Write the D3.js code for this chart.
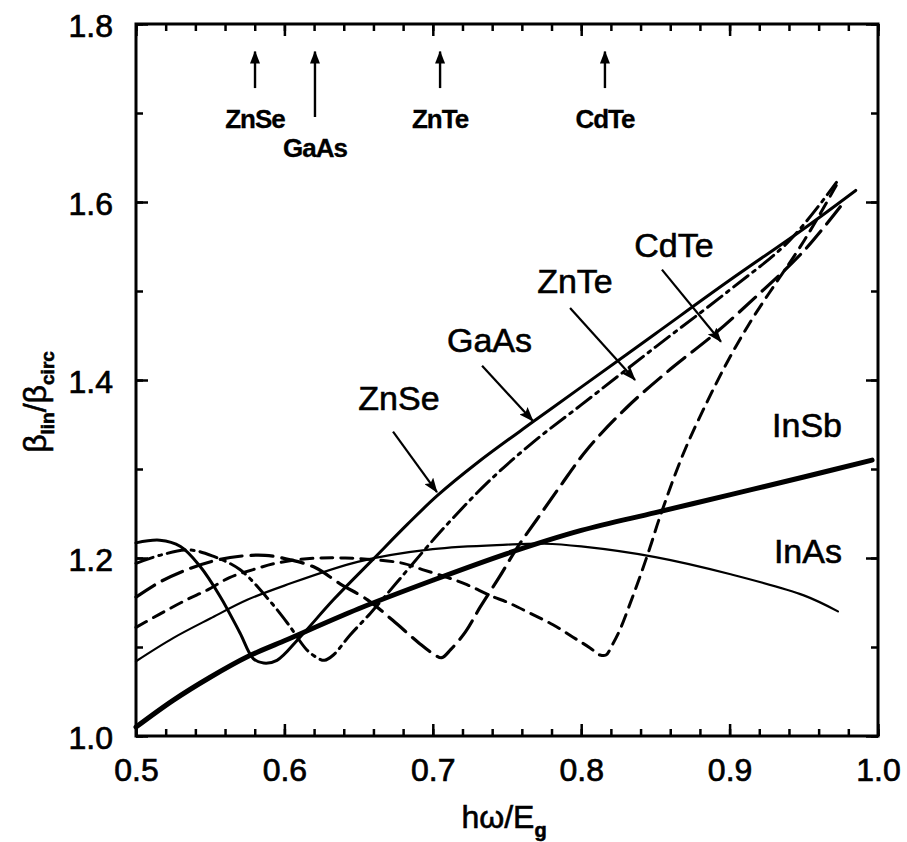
<!DOCTYPE html>
<html lang="en">
<head>
<meta charset="UTF-8">
<title>beta_lin / beta_circ vs photon energy</title>
<style>
  body { margin: 0; background: #fff; }
  text { font-family: "Liberation Sans", Arial, Helvetica, sans-serif; fill: #000; stroke: #000; stroke-width: 0.6px; }
  .curve { fill: none; stroke: #000; stroke-linejoin: round; stroke-linecap: round; }
  .tick line { stroke: #000; stroke-width: 2.5px; }
  .domain { display: none; }
</style>
</head>
<body>
<script src="https://cdn.jsdelivr.net/npm/d3@7"></script>
<script>
// curves: [hw/Eg, beta_lin/beta_circ]
const inSb = [[0.5,1.01],[0.525,1.04],[0.55,1.066],[0.575,1.089],[0.6,1.107],[0.65,1.143],
  [0.7,1.175],[0.75,1.205],[0.8,1.231],[0.85,1.251],[0.9,1.271],[0.95,1.291],[0.996,1.31]];
const inAs = [[0.5,1.084],[0.525,1.11],[0.55,1.132],[0.575,1.153],[0.6,1.169],[0.65,1.196],
  [0.7,1.210],[0.75,1.215],[0.775,1.216],[0.8,1.213],[0.85,1.201],[0.9,1.182],[0.95,1.158],[0.973,1.14]];
const znSe = [[0.5,1.217],[0.516,1.220],[0.53,1.213],[0.543,1.191],[0.557,1.156],[0.570,1.116],
  [0.579,1.087],[0.586,1.082],[0.595,1.085],[0.6105,1.111],[0.633,1.153],[0.66,1.199],[0.683,1.238],
  [0.703,1.270],[0.73,1.307],[0.7675,1.353],[0.8,1.392],[0.85,1.452],[0.9,1.512],[0.95,1.570],[0.985,1.613]];
const gaAs = [[0.5,1.194],[0.516,1.203],[0.536,1.209],[0.552,1.202],[0.570,1.187],[0.588,1.156],
  [0.602,1.127],[0.615,1.097],[0.622,1.088],[0.627,1.085],[0.633,1.091],[0.644,1.113],[0.658,1.138],
  [0.676,1.173],[0.698,1.216],[0.712,1.242],[0.737,1.285],[0.7675,1.330],[0.8,1.372],[0.85,1.437],
  [0.9,1.501],[0.94,1.556],[0.972,1.622]];
const znTe = [[0.5,1.156],[0.516,1.173],[0.536,1.188],[0.553,1.197],[0.570,1.202],[0.587,1.203],
  [0.604,1.198],[0.621,1.189],[0.6375,1.171],[0.656,1.153],[0.673,1.130],[0.691,1.104],[0.7015,1.091],
  [0.706,1.088],[0.712,1.097],[0.722,1.117],[0.732,1.145],[0.745,1.179],[0.757,1.212],[0.770,1.243],
  [0.786,1.281],[0.804,1.322],[0.83,1.368],[0.86,1.412],[0.89,1.452],[0.92,1.497],[0.95,1.545],[0.978,1.602]];
const cdTe = [[0.5,1.122],[0.516,1.137],[0.534,1.153],[0.548,1.164],[0.563,1.178],[0.579,1.187],
  [0.594,1.194],[0.6085,1.198],[0.624,1.2],[0.641,1.2],[0.661,1.198],[0.68,1.194],[0.693,1.187],
  [0.71,1.178],[0.723,1.17],[0.7385,1.158],[0.752,1.149],[0.7655,1.138],[0.781,1.125],[0.7945,1.111],
  [0.806,1.099],[0.8127,1.091],[0.8167,1.091],[0.8208,1.102],[0.826,1.119],[0.833,1.149],[0.8396,1.179],
  [0.8464,1.212],[0.853,1.246],[0.869,1.318],[0.885,1.376],[0.9,1.425],[0.915,1.468],[0.93,1.506],
  [0.945,1.543],[0.958,1.578],[0.974,1.625]];

const xTicks = [0.5, 0.6, 0.7, 0.8, 0.9, 1.0];
const yTicks = [1.0, 1.2, 1.4, 1.6, 1.8];

// labelled arrows in the plot: text position, arrow start, arrow tip
const labels = [
  {text: 'ZnSe', at: [0.6772, 1.366], from: [0.6732, 1.342], to: [0.7028, 1.274]},
  {text: 'GaAs', at: [0.7382, 1.4315], from: [0.7332, 1.416], to: [0.7675, 1.354]},
  {text: 'ZnTe', at: [0.7958, 1.4978], from: [0.7925, 1.481], to: [0.8363, 1.40]},
  {text: 'CdTe', at: [0.8625, 1.5382], from: [0.8544, 1.524], to: [0.8942, 1.443]},
  {text: 'InSb', at: [0.9522, 1.336]},
  {text: 'InAs', at: [0.9528, 1.1944]}
];
// band edge markers along the top
const edgeNames = ['ZnSe', 'GaAs', 'ZnTe', 'CdTe'];
const edgeX = [0.5802, 0.6206, 0.7049, 0.816];
const edgeTail = [1.728, 1.6955, 1.728, 1.728];
const edgeText = [1.6831, 1.6506, 1.6831, 1.6831];

const width = 907, height = 842;
const margin = {top: 24, right: 29, bottom: 106, left: 136};

const x = d3.scaleLinear().domain([0.5, 1.0]).range([margin.left, width - margin.right]);
const y = d3.scaleLinear().domain([1.0, 1.8]).range([height - margin.bottom, margin.top]);

const svg = d3.select('body').append('svg').attr('width', width).attr('height', height);

const defs = svg.append('defs');
defs.append('marker').attr('id', 'head').attr('markerUnits', 'userSpaceOnUse')
  .attr('viewBox', '0 0 15 11').attr('refX', 14).attr('refY', 5.5)
  .attr('markerWidth', 15).attr('markerHeight', 11).attr('orient', 'auto')
  .append('path').attr('d', 'M0,0L15,5.5L0,11L3,5.5Z').attr('fill', '#000');
defs.append('marker').attr('id', 'smallhead').attr('markerUnits', 'userSpaceOnUse')
  .attr('viewBox', '0 0 13 11').attr('refX', 12).attr('refY', 5.5)
  .attr('markerWidth', 13).attr('markerHeight', 11).attr('orient', 'auto')
  .append('path').attr('d', 'M0,0.5L13,5.5L0,10.5Z').attr('fill', '#000');

// axes, ticks inward on all four sides
const fmt = d3.format('.1f');
const minorX = d3.range(0.5, 1.0001, 0.02);
const minorY = d3.range(1.0, 1.8001, 0.1);
const bottom = height - margin.bottom, right = width - margin.right;

function ticks(axis, tr) {
  return svg.append('g').attr('transform', tr).call(axis);
}
ticks(d3.axisBottom(x).tickValues(minorX).tickSize(-7).tickFormat(''), `translate(0,${bottom})`);
ticks(d3.axisTop(x).tickValues(minorX).tickSize(-7).tickFormat(''), `translate(0,${margin.top})`);
ticks(d3.axisLeft(y).tickValues(minorY).tickSize(-7).tickFormat(''), `translate(${margin.left},0)`);
ticks(d3.axisRight(y).tickValues(minorY).tickSize(-7).tickFormat(''), `translate(${right},0)`);
ticks(d3.axisTop(x).tickValues(xTicks).tickSize(-12).tickFormat(''), `translate(0,${margin.top})`);
ticks(d3.axisRight(y).tickValues(yTicks).tickSize(-12).tickFormat(''), `translate(${right},0)`);

const xa = ticks(d3.axisBottom(x).tickValues(xTicks).tickSize(-12).tickPadding(22).tickFormat(fmt),
  `translate(0,${bottom})`);
xa.selectAll('text').style('font-size', '32px');
const ya = ticks(d3.axisLeft(y).tickValues(yTicks).tickSize(-12).tickPadding(23).tickFormat(fmt),
  `translate(${margin.left},0)`);
ya.selectAll('text').style('font-size', '32px').attr('dy', '0.4em');
svg.selectAll('.tick text').attr('fill', '#000').style('stroke', '#000').style('stroke-width', '0.7px');

svg.append('rect').attr('x', margin.left).attr('y', margin.top)
  .attr('width', right - margin.left).attr('height', bottom - margin.top)
  .attr('fill', 'none').attr('stroke', '#000').attr('stroke-width', 3);

// curves
const line = d3.line().curve(d3.curveCatmullRom.alpha(0.5)).x(d => x(d[0])).y(d => y(d[1]));
const series = [
  {data: inAs, w: 2.2, dash: null},
  {data: cdTe, w: 3, dash: '12,8'},
  {data: znTe, w: 3.2, dash: '22,9'},
  {data: gaAs, w: 3, dash: '18,6,3,6'},
  {data: znSe, w: 3, dash: null},
  {data: inSb, w: 5, dash: null}
];
svg.append('g').selectAll('path').data(series).enter().append('path')
  .attr('class', 'curve')
  .attr('d', d => line(d.data))
  .attr('stroke-width', d => d.w)
  .attr('stroke-dasharray', d => d.dash)
  .attr('stroke-linecap', d => d.dash ? 'butt' : 'round');

// labels with arrows
const lab = svg.append('g');
lab.selectAll('line').data(labels.filter(d => d.from)).enter().append('line')
  .attr('x1', d => x(d.from[0])).attr('y1', d => y(d.from[1]))
  .attr('x2', d => x(d.to[0])).attr('y2', d => y(d.to[1]))
  .attr('stroke', '#000').attr('stroke-width', 2.2).attr('marker-end', 'url(#head)');
lab.selectAll('text').data(labels).enter().append('text')
  .attr('x', d => x(d.at[0])).attr('y', d => y(d.at[1]))
  .attr('text-anchor', 'middle').style('font-size', '34px')
  .text(d => d.text);

// band edge arrows on top
const edgeG = svg.append('g');
edgeG.selectAll('line').data(edgeX).enter().append('line')
  .attr('x1', d => x(d)).attr('x2', d => x(d))
  .attr('y1', (d, i) => y(edgeTail[i])).attr('y2', y(1.769))
  .attr('stroke', '#000').attr('stroke-width', 2.4).attr('marker-end', 'url(#smallhead)');
edgeG.selectAll('text').data(edgeX).enter().append('text')
  .attr('x', d => x(d)).attr('y', (d, i) => y(edgeText[i]))
  .attr('text-anchor', 'middle').style('font-size', '26px').style('font-weight', 'bold')
  .style('letter-spacing', '-1px').style('stroke-width', '0.3px')
  .text((d, i) => edgeNames[i]);

// axis titles
const xt = svg.append('text').attr('x', 504).attr('y', 828)
  .attr('text-anchor', 'middle').style('font-size', '32px');
xt.append('tspan').text('h\u03c9/E');
xt.append('tspan').attr('dy', 9).style('font-size', '20px').style('font-weight', 'bold').text('g');

const yt = svg.append('text').attr('transform', 'translate(46,402) rotate(-90)')
  .attr('text-anchor', 'middle').style('font-size', '32px');
yt.append('tspan').text('\u03b2');
yt.append('tspan').attr('dy', 8).style('font-size', '19px').style('font-weight', 'bold').text('lin');
yt.append('tspan').attr('dy', -8).text('/\u03b2');
yt.append('tspan').attr('dy', 8).style('font-size', '19px').style('font-weight', 'bold').text('circ');
</script>
</body>
</html>
